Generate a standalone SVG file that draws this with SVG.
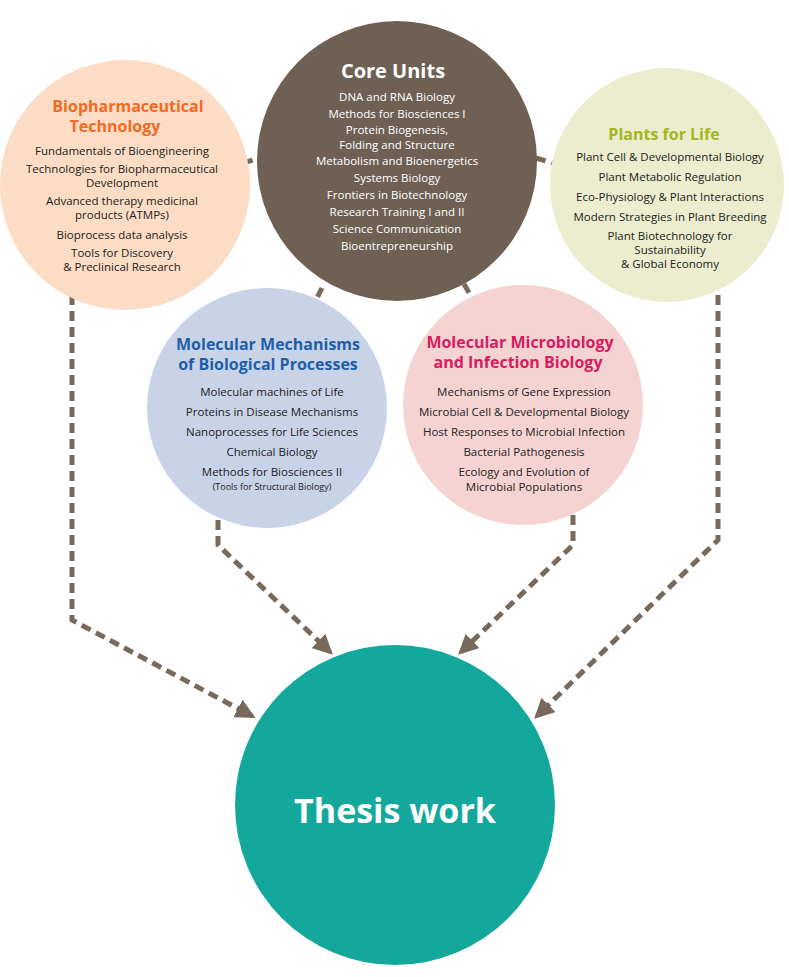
<svg xmlns="http://www.w3.org/2000/svg" width="789" height="977" viewBox="0 0 789 977">
<style>
text{font-family:"Open Sans","DejaVu Sans",sans-serif;text-anchor:middle}
.t{font-size:11.5px;fill:#222}
.w{font-size:11.5px;fill:#fff}
.h{font-size:16px;font-weight:bold}
.c{fill:none;stroke:#776a5c;stroke-width:5;stroke-dasharray:10 6}
</style>
<defs><marker id="a" viewBox="0 0 10 10" refX="8" refY="5" markerWidth="4" markerHeight="4" orient="auto" markerUnits="strokeWidth"><path d="M0,0 L10,5 L0,10 z" fill="#776a5c"/></marker></defs>
<g id="connectors">
<path class="c" d="M72,295 V620 L252,716" marker-end="url(#a)"/>
<path class="c" d="M718,295 V540 L537,716" marker-end="url(#a)"/>
<path class="c" d="M218,520 V545 L330,652" marker-end="url(#a)"/>
<path class="c" d="M573,515 V545 L461,652" marker-end="url(#a)"/>
<path class="c" d="M243,163 L260,158"/>
<path class="c" d="M536,158 L552,163"/>
<path class="c" d="M322,288 L316,300"/>
<path class="c" d="M464,284 L472,298"/>
</g>
<g id="core"><circle cx="397" cy="161" r="140" fill="#6e6154"/>
<text x="393" y="78" class="h" style="fill:#fff;font-size:20px">Core Units</text>
<text class="w" x="397" y="101">DNA and RNA Biology</text>
<text class="w" x="397" y="118">Methods for Biosciences I</text>
<text class="w" x="397" y="134">Protein Biogenesis,</text>
<text class="w" x="397" y="149">Folding and Structure</text>
<text class="w" x="397" y="165">Metabolism and Bioenergetics</text>
<text class="w" x="397" y="182">Systems Biology</text>
<text class="w" x="397" y="199">Frontiers in Biotechnology</text>
<text class="w" x="397" y="216">Research Training I and II</text>
<text class="w" x="397" y="233">Science Communication</text>
<text class="w" x="397" y="250">Bioentrepreneurship</text>
</g>
<g id="biopharm"><circle cx="125" cy="185" r="125" fill="#fcdcc4"/>
<text x="128" y="112" class="h" fill="#f26a21">Biopharmaceutical</text>
<text x="115" y="132" class="h" fill="#f26a21">Technology</text>
<text class="t" x="122" y="155">Fundamentals of Bioengineering</text>
<text class="t" x="122" y="173">Technologies for Biopharmaceutical</text>
<text class="t" x="122" y="187">Development</text>
<text class="t" x="122" y="205">Advanced therapy medicinal</text>
<text class="t" x="122" y="219">products (ATMPs)</text>
<text class="t" x="122" y="239">Bioprocess data analysis</text>
<text class="t" x="122" y="257">Tools for Discovery</text>
<text class="t" x="122" y="271">&amp; Preclinical Research</text>
</g>
<g id="plants"><circle cx="667" cy="185" r="117" fill="#ebedce"/>
<text x="664" y="140" class="h" fill="#a5b51e">Plants for Life</text>
<text class="t" x="670" y="161">Plant Cell &amp; Developmental Biology</text>
<text class="t" x="670" y="181">Plant Metabolic Regulation</text>
<text class="t" x="670" y="201">Eco-Physiology &amp; Plant Interactions</text>
<text class="t" x="670" y="221">Modern Strategies in Plant Breeding</text>
<text class="t" x="670" y="240">Plant Biotechnology for</text>
<text class="t" x="670" y="254">Sustainability</text>
<text class="t" x="670" y="268">&amp; Global Economy</text>
</g>
<g id="molmech"><circle cx="267" cy="408" r="120" fill="#c8d3e8"/>
<text x="268" y="350" class="h" fill="#1f5fa8">Molecular Mechanisms</text>
<text x="268" y="370" class="h" fill="#1f5fa8">of Biological Processes</text>
<text class="t" x="272" y="396">Molecular machines of Life</text>
<text class="t" x="272" y="416">Proteins in Disease Mechanisms</text>
<text class="t" x="272" y="436">Nanoprocesses for Life Sciences</text>
<text class="t" x="272" y="456">Chemical Biology</text>
<text class="t" x="272" y="476">Methods for Biosciences II</text>
<text class="t" x="272" y="490" style="font-size:9px">(Tools for Structural Biology)</text>
</g>
<g id="molmicro"><circle cx="523" cy="405" r="120" fill="#f5d3d3"/>
<text x="520" y="348" class="h" fill="#d81c5d">Molecular Microbiology</text>
<text x="518" y="368" class="h" fill="#d81c5d">and Infection Biology</text>
<text class="t" x="524" y="396">Mechanisms of Gene Expression</text>
<text class="t" x="524" y="416">Microbial Cell &amp; Developmental Biology</text>
<text class="t" x="524" y="436">Host Responses to Microbial Infection</text>
<text class="t" x="524" y="456">Bacterial Pathogenesis</text>
<text class="t" x="524" y="476">Ecology and Evolution of</text>
<text class="t" x="524" y="491">Microbial Populations</text>
</g>
<g id="thesis"><circle cx="395" cy="805" r="160" fill="#14a89d"/>
<text x="395" y="823" style="font-size:34px;font-weight:bold;fill:#fff">Thesis work</text>
</g>
</svg>
